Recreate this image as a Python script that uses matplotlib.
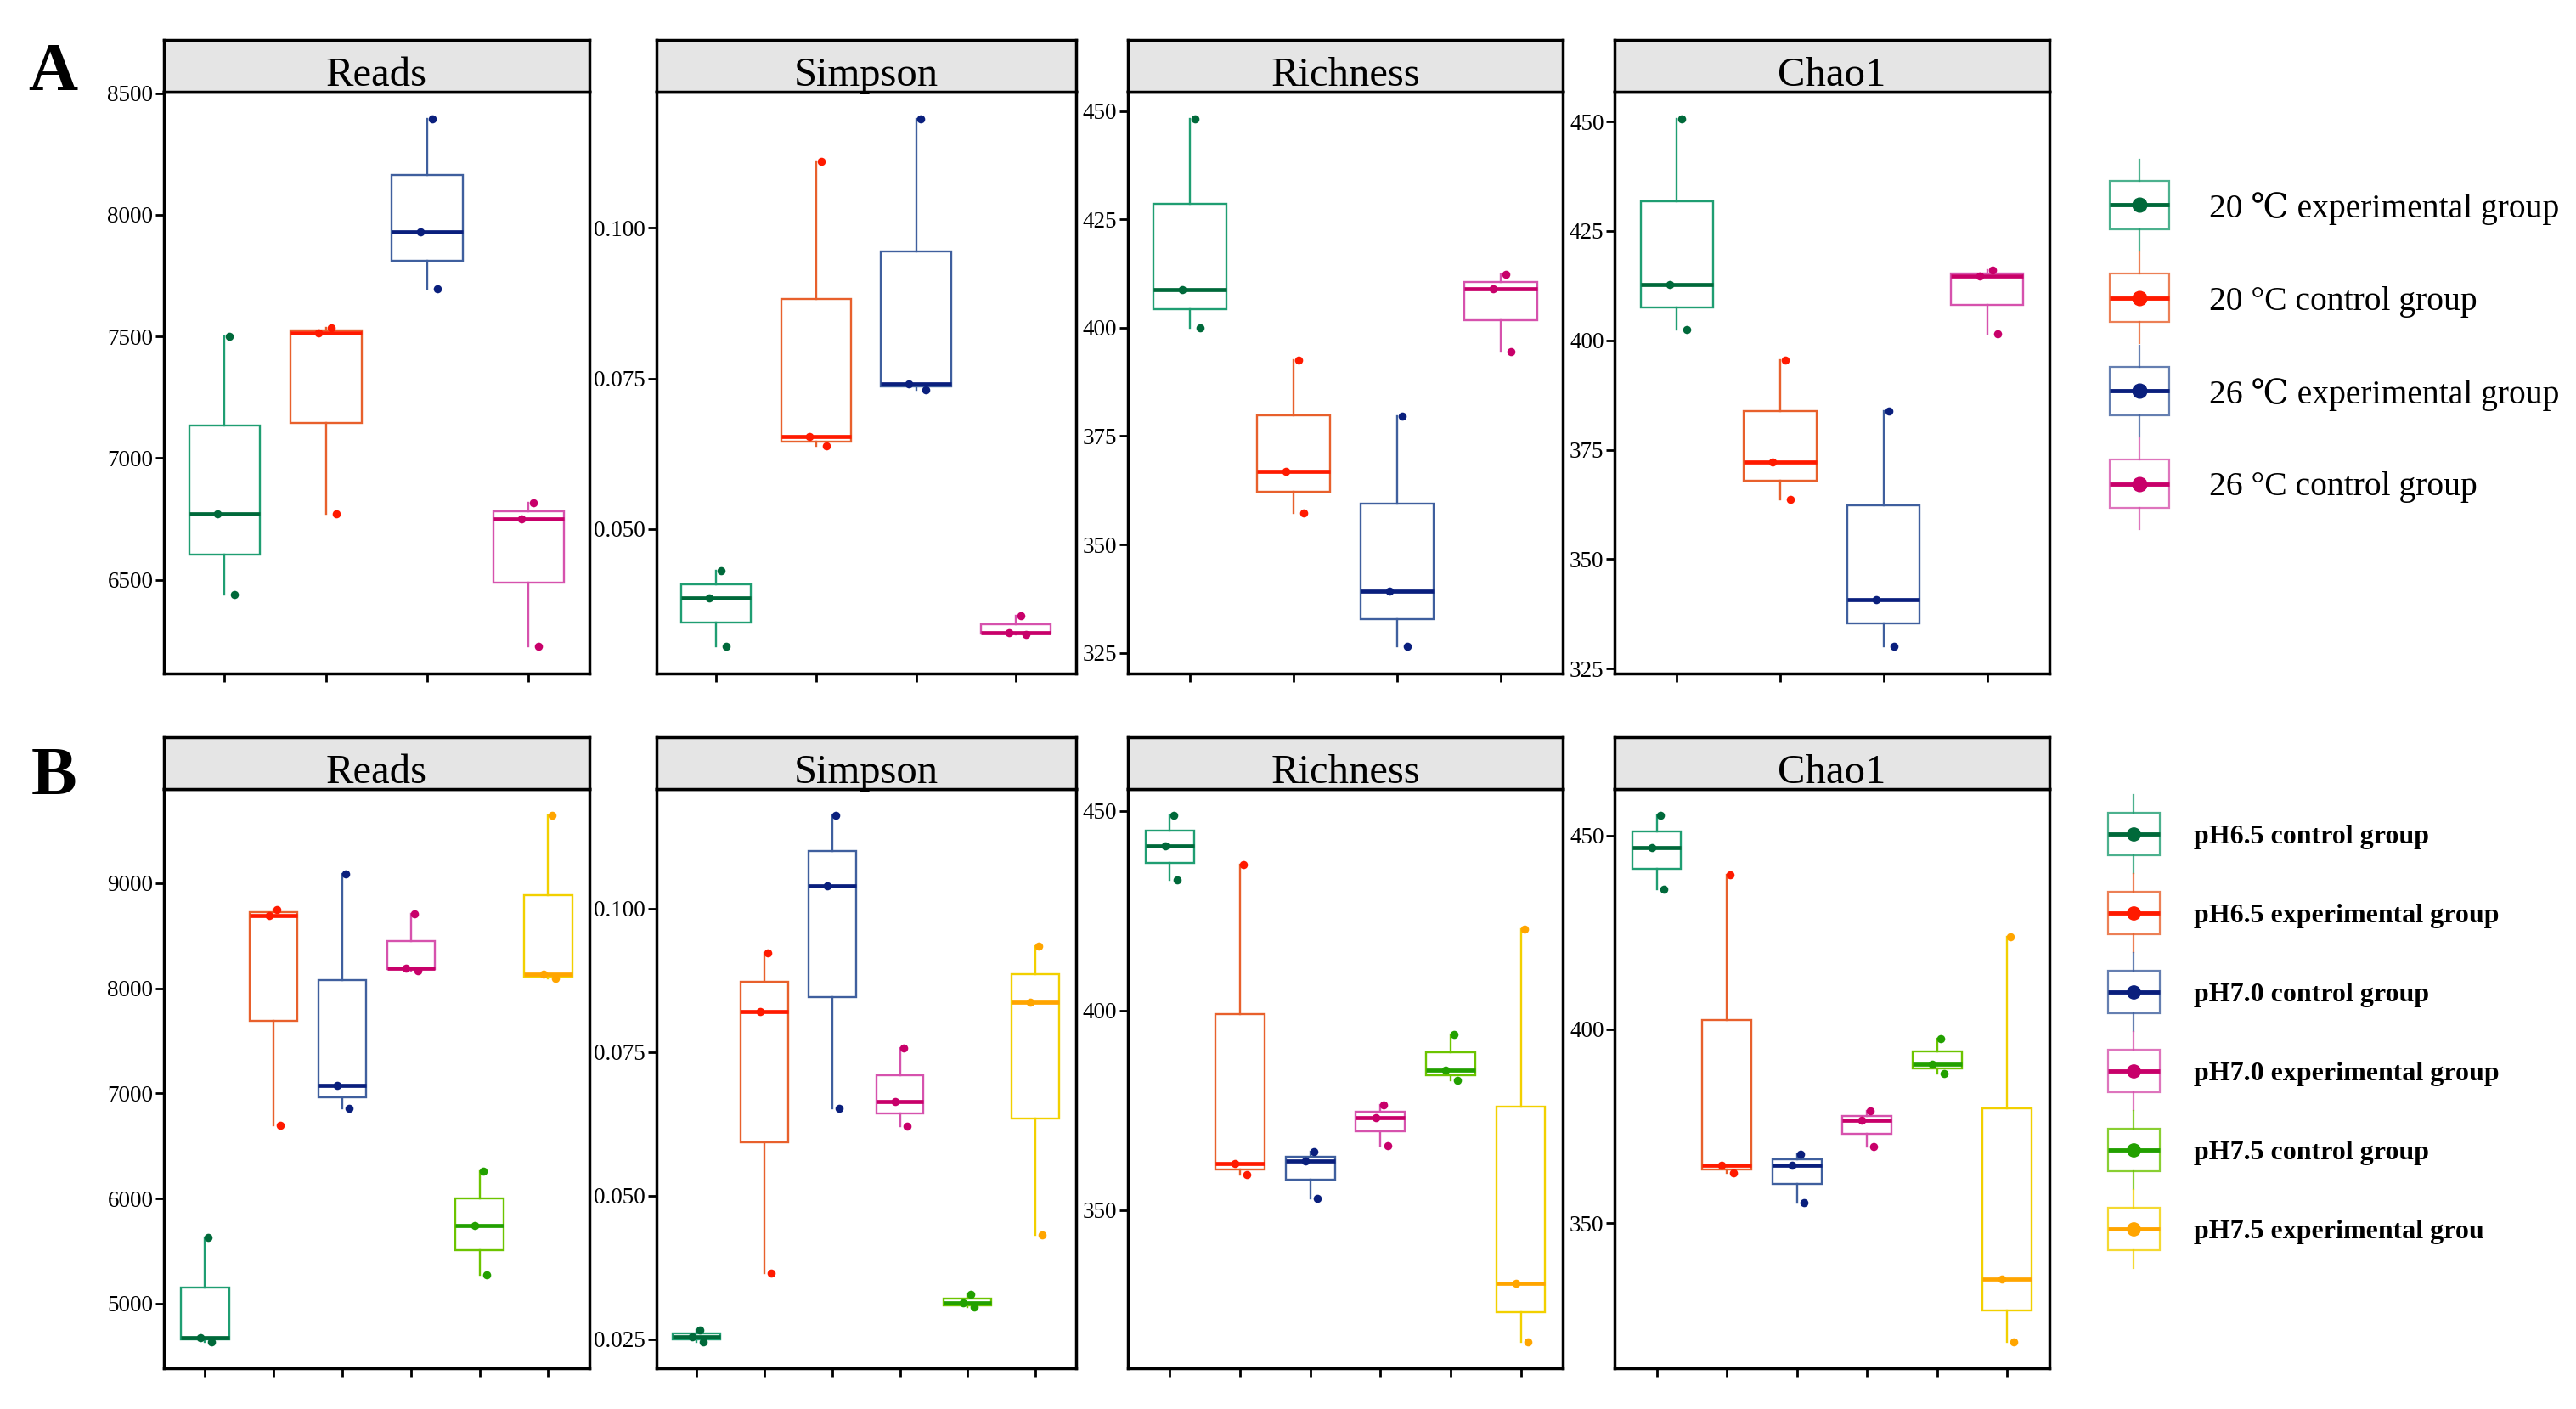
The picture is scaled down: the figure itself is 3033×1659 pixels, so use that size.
import matplotlib
matplotlib.use("Agg")
import matplotlib.pyplot as plt
from matplotlib.patches import Rectangle
from matplotlib.ticker import MultipleLocator, FormatStrFormatter

SERIF = ["Liberation Serif", "DejaVu Serif"]
plt.rcParams["font.family"] = SERIF

W, H, DPI = 3033, 1659, 100

metrics = ["Reads", "Simpson", "Richness", "Chao1"]

# panel A: temperature groups, three samples each
groups_a = ["20 \u2103 experimental group", "20 \u00b0C control group",
            "26 \u2103 experimental group", "26 \u00b0C control group"]
reads_a = [[6440, 6770, 7500], [6770, 7515, 7535], [7695, 7930, 8395], [6225, 6750, 6815]]
simpson_a = [[0.0305, 0.0386, 0.0431], [0.0638, 0.0653, 0.1110],
             [0.0731, 0.0741, 0.1181], [0.0326, 0.0328, 0.0357]]
richness_a = [[400.0, 408.8, 448.3], [357.3, 366.9, 392.6],
              [326.4, 339.3, 379.6], [394.5, 409.0, 412.3]]
chao1_a = [[402.4, 412.7, 450.7], [363.6, 372.2, 395.4],
           [330.0, 340.8, 383.8], [401.6, 414.7, 416.0]]

# panel B: pH groups
groups_b = ["pH6.5 control group", "pH6.5 experimental group", "pH7.0 control group",
            "pH7.0 experimental group", "pH7.5 control group", "pH7.5 experimental grou"]
reads_b = [[4637, 4680, 5630], [6693, 8690, 8750], [6855, 7077, 9085],
           [8168, 8190, 8710], [5277, 5746, 6258], [8092, 8130, 9644]]
simpson_b = [[0.0245, 0.0254, 0.0266], [0.0365, 0.0820, 0.0923], [0.0651, 0.1039, 0.1162],
             [0.0621, 0.0664, 0.0756], [0.0305, 0.0313, 0.0328], [0.0431, 0.0836, 0.0934]]
richness_b = [[432.7, 441.2, 448.9], [358.8, 361.6, 436.5], [352.9, 362.2, 364.7],
              [366.1, 373.2, 376.3], [382.5, 385.1, 394.0], [317.0, 331.7, 420.3]]
chao1_b = [[436.1, 446.8, 455.2], [362.9, 365.0, 439.9], [355.4, 365.0, 367.9],
           [369.7, 376.6, 378.9], [388.7, 391.0, 397.6], [319.4, 335.5, 423.8]]

tick_step_a = [500, 0.025, 25, 25]
tick_step_b = [1000, 0.025, 50, 50]

BOX = ["#1f9e72", "#e8602c", "#3f5f9e", "#d652ad", "#6cc400", "#f2d000"]
DOT = ["#00693a", "#ff1a00", "#0a1f7d", "#c8006a", "#22a000", "#ffa500"]

JITTER = [0.10, -0.07, 0.05]   # horizontal offsets for low / mid / high sample
COLS = [(0.0636, 0.2288), (0.2547, 0.4177), (0.4378, 0.6067), (0.6268, 0.7955)]


def panel(ax, data, step, fmt):
    n = len(data)
    pos = list(range(1, n + 1))
    bp = ax.boxplot(data, positions=pos, widths=0.7, whis=(0, 100), showfliers=False,
                    showcaps=False, patch_artist=True, manage_ticks=False)
    for i in range(n):
        bp["boxes"][i].set(facecolor="white", edgecolor=BOX[i], linewidth=1.7)
        for w in bp["whiskers"][2 * i:2 * i + 2]:
            w.set(color=BOX[i], linewidth=1.7)
        bp["medians"][i].set(color=DOT[i], linewidth=3.4, solid_capstyle="butt")
        vals = sorted(data[i])
        ax.scatter([i + 1 + j for j in JITTER], vals, s=48, color=DOT[i], lw=0, zorder=4)
    ax.set_xlim(0.4, n + 0.6)
    ax.set_xticks(pos)
    ax.set_xticklabels([])
    ax.yaxis.set_major_locator(MultipleLocator(step))
    ax.yaxis.set_major_formatter(FormatStrFormatter(fmt))
    ax.tick_params(axis="both", length=7, width=2, direction="out", labelsize=19.5, pad=2)
    for s in ax.spines.values():
        s.set_linewidth(2.5)


def strip(x0, x1, y0, h, title):
    sax = fig.add_axes([x0, y0, x1 - x0, h])
    sax.set_facecolor("#e5e5e5")
    sax.set_xticks([])
    sax.set_yticks([])
    for s in sax.spines.values():
        s.set_linewidth(2.5)
    sax.text(0.5, 0.40, title, transform=sax.transAxes, ha="center", va="center_baseline",
             fontsize=35)


fig = plt.figure(figsize=(W / DPI, H / DPI), dpi=DPI)

rows = [
    ([reads_a, simpson_a, richness_a, chao1_a], tick_step_a, 0.5223, 0.9346, 0.0373),
    ([reads_b, simpson_b, richness_b, chao1_b], tick_step_b, 0.029, 0.44, 0.0368),
]
for datas, steps, bot, top, sh in rows:
    for k, (x0, x1) in enumerate(COLS):
        ax = fig.add_axes([x0, bot, x1 - x0, top - bot])
        fmt = "%.3f" if metrics[k] == "Simpson" else "%d"
        panel(ax, datas[k], steps[k], fmt)
        strip(x0, x1, top, sh, metrics[k])

fig.text(0.0206, 0.953, "A", fontsize=58, fontweight="bold", ha="center", va="center_baseline")
fig.text(0.0208, 0.453, "B", fontsize=58, fontweight="bold", ha="center", va="center_baseline")

# legends, drawn in pixel units
lax = fig.add_axes([0, 0, 1, 1], facecolor="none")
lax.set_xlim(0, W)
lax.set_ylim(H, 0)
lax.axis("off")


def legend(labels, cx, y0, dy, bw, bh, ext, tx, fs, weight, ms):
    for i, lab in enumerate(labels):
        cy = y0 + i * dy
        lax.add_patch(Rectangle((cx - bw / 2, cy - bh / 2), bw, bh, fill=False,
                                edgecolor=BOX[i], lw=1.6, alpha=0.8))
        lax.plot([cx, cx], [cy - bh / 2 - ext, cy - bh / 2], color=BOX[i], lw=1.6, alpha=0.8)
        lax.plot([cx, cx], [cy + bh / 2, cy + bh / 2 + ext], color=BOX[i], lw=1.6, alpha=0.8)
        lax.plot([cx - bw / 2, cx + bw / 2], [cy, cy], color=DOT[i], lw=3.5,
                 solid_capstyle="butt")
        lax.plot([cx], [cy], "o", color=DOT[i], ms=ms)
        lax.text(tx, cy, lab, fontsize=fs, fontweight=weight, ha="left", va="center_baseline")


legend(groups_a, 2519, 241, 109.5, 70, 57, 25, 2601, 28.5, "normal", 12)
legend(groups_b, 2512, 982, 93, 61, 50, 21, 2583, 23, "bold", 11)

fig.savefig("out.png", dpi=DPI, facecolor="white")
